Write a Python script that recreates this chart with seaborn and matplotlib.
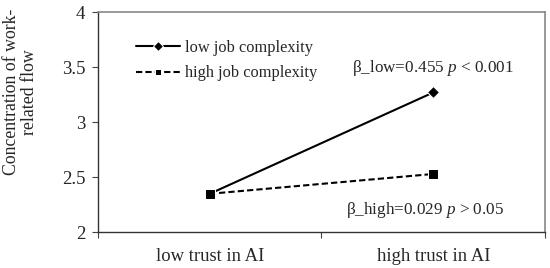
import matplotlib
matplotlib.use("Agg")
import matplotlib.pyplot as plt
import seaborn as sns
import pandas as pd

trust = ["low trust in AI", "high trust in AI"]
low_complexity = [2.35, 3.27]
high_complexity = [2.35, 2.53]
series_names = ["low job complexity", "high job complexity"]
y_ticks = [2, 2.5, 3, 3.5, 4]
y_tick_labels = ["2", "2.5", "3", "3.5", "4"]
ylabel = "Concentration of work-\nrelated flow"
note_low = "β_low=0.455 $\\mathit{p}$ < 0.001"
note_high = "β_high=0.029 $\\mathit{p}$ > 0.05"

sns.set_theme(style="white")
plt.rcParams['font.family'] = ['Liberation Serif', 'DejaVu Serif']
plt.rcParams['mathtext.fontset'] = 'custom'
plt.rcParams['mathtext.it'] = 'Liberation Serif:italic'
plt.rcParams['mathtext.rm'] = 'Liberation Serif'

df = pd.DataFrame({
    "trust": trust * 2,
    "value": low_complexity + high_complexity,
    "complexity": [series_names[0]] * 2 + [series_names[1]] * 2,
})

fig = plt.figure(figsize=(5.5, 2.68), dpi=100)
ax = fig.add_axes([0.178, 0.133, 0.813, 0.822])

sns.lineplot(data=df, x="trust", y="value", hue="complexity", style="complexity",
             palette=["black", "black"],
             markers={series_names[0]: "D", series_names[1]: "s"},
             dashes={series_names[0]: "", series_names[1]: (3, 1.5)},
             markersize=6.5, linewidth=1.5, ax=ax, sort=False)

ax.set_xlim(-0.5, 1.5)
ax.set_ylim(2, 4)
ax.set_yticks(y_ticks)
ax.set_yticklabels(y_tick_labels, fontsize=13.5)
ax.set_xticks([-0.5, 0.5, 1.5])
ax.set_xticklabels([])
ax.set_xticks([0, 1], minor=True)
ax.set_xticklabels(trust, minor=True, fontsize=13.4)
ax.tick_params(axis='x', which='minor', length=0, pad=11)
ax.tick_params(axis='both', which='major', direction='out', length=4, width=0.8,
               color='#444444', left=True, bottom=True)
ax.tick_params(axis='y', which='major', pad=5)
ax.set_xlabel("")
ax.set_ylabel(ylabel, fontsize=12.8, linespacing=1.1)
ax.yaxis.set_label_coords(-0.134, 0.638)

for side in ["left", "bottom"]:
    ax.spines[side].set_color("#333333")
    ax.spines[side].set_linewidth(1.0)
for side in ["top", "right"]:
    ax.spines[side].set_color("#888888")
    ax.spines[side].set_linewidth(1.2)

leg = ax.legend(loc="upper left", bbox_to_anchor=(0.07, 0.905), frameon=False,
                fontsize=11.8, handlelength=2.7, handletextpad=0.3, labelspacing=0.6,
                borderaxespad=0)
for h in leg.legend_handles:
    h.set_markersize(5)

ax.text(1.0, 3.49, note_low, ha="center", va="center", fontsize=12.3)
ax.text(0.963, 2.2, note_high, ha="center", va="center", fontsize=12.3)

fig.savefig("out.png", dpi=100)
